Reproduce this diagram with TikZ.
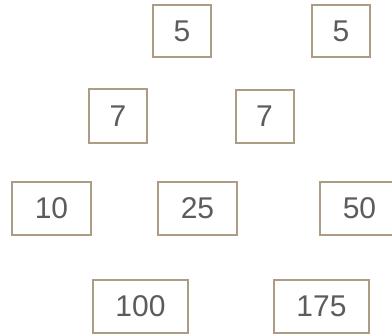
\documentclass[tikz,border=0pt]{standalone}
\usepackage{fontspec}
\setmainfont{Liberation Sans}
\definecolor{boxline}{HTML}{AC9C86}
\definecolor{numtext}{HTML}{5C5C5C}
\begin{document}
\begin{tikzpicture}[x=1pt,y=-1pt,
  numbox/.style={draw=boxline,line width=2pt,fill=white,inner sep=0pt,
    minimum width=58pt,minimum height=52pt,text=numtext,
    font=\fontsize{30}{30}\selectfont},
  widebox/.style={numbox,minimum width=79pt,minimum height=53pt},
  widerbox/.style={numbox,minimum width=95pt,minimum height=53pt}]
\useasboundingbox (0,0) rectangle (392,334);
\node[numbox] (a1) at (182,31) {5};
\node[numbox] (a2) at (341,31) {5};
\node[numbox,minimum height=54pt] (b1) at (118,116) {7};
\node[numbox,minimum height=53pt] (b2) at (264.5,116.5) {7};
\node[widebox] (c1) at (51.5,208.5) {10};
\node[widebox] (c2) at (197.5,208.5) {25};
\node[widebox] (c3) at (359.5,208.5) {50};
\node[widerbox] (d1) at (140.5,306.5) {100};
\node[widerbox] (d2) at (321.5,306.5) {175};
\end{tikzpicture}
\end{document}
